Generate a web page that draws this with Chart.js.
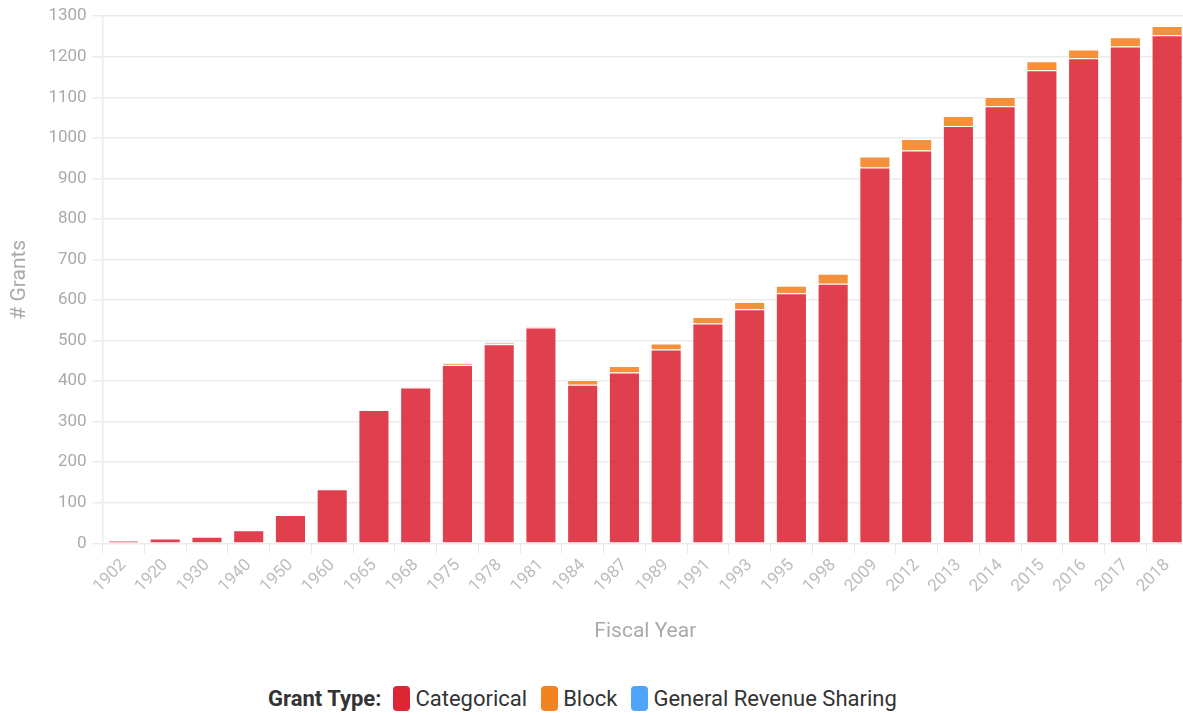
<!DOCTYPE html>
<html>
<head>
<meta charset="utf-8">
<script src="https://cdn.jsdelivr.net/npm/chart.js@4"></script>
<style>
  html, body { margin: 0; padding: 0; background: #fff; overflow: hidden; width: 1183px; height: 715px; }
  #wrap { position: absolute; left: 0; top: 0; width: 1188px; height: 660px; }
  #legend { position: absolute; left: 268px; top: 684px; height: 28px; display: flex; align-items: center;
    font-family: Roboto, "Noto Sans", sans-serif; font-size: 22px; color: #333; white-space: nowrap; }
  #legend .ttl { font-weight: bold; margin-right: 12px; }
  #legend .sw { display: inline-block; width: 17px; height: 25px; border-radius: 4px; margin-right: 5px; }
  #legend .it { display: flex; align-items: center; margin-right: 14px; }
</style>
</head>
<body>
<div id="wrap"><canvas id="c"></canvas></div>
<div id="legend"></div>
<script>
const years = ['1902','1920','1930','1940','1950','1960','1965','1968','1975','1978','1981','1984','1987','1989','1991','1993','1995','1998','2009','2012','2013','2014','2015','2016','2017','2018'];
const categorical = [7,12,16,32,70,133,329,384,440,491,532,391,421,478,542,577,617,640,927,969,1029,1078,1167,1196,1225,1253];
const block = [0,0,0,0,0,0,0,2,3,3,3,12,16,15,16,18,18,25,27,28,25,23,22,22,23,23];
const generalRevenueSharing = [0,0,0,0,0,0,0,0,1,1,1,1,0,0,0,0,0,0,0,0,0,0,0,0,0,0];
const seriesNames = ['Categorical','Block','General Revenue Sharing'];
const seriesColors = ['rgb(220,38,52)','rgb(245,130,32)','rgb(80,165,250)'];
const fillColors = ['rgba(220,38,52,0.88)','rgba(245,130,32,0.88)','rgba(80,165,250,0.88)'];

const legend = document.getElementById('legend');
legend.innerHTML = '<span class="ttl">Grant Type:</span>' + seriesNames.map((n,i)=>
  `<span class="it"><span class="sw" style="background:${seriesColors[i]}"></span>${n}</span>`).join('');

const tickFont = { family: 'Roboto', size: 17 };
const titleFont = { family: 'Roboto', size: 21, lineHeight: 1.2 };

new Chart(document.getElementById('c'), {
  type: 'bar',
  data: {
    labels: years,
    datasets: [categorical, block, generalRevenueSharing].map((d,i)=>({
      label: seriesNames[i],
      data: d,
      backgroundColor: fillColors[i],
      borderColor: 'rgba(255,255,255,0.7)',
      borderWidth: 1,
      categoryPercentage: 1,
      barPercentage: 0.745
    }))
  },
  options: {
    responsive: true,
    maintainAspectRatio: false,
    animation: false,
    layout: { padding: { top: 14, left: 0, right: 0, bottom: 0 } },
    plugins: { legend: { display: false }, tooltip: { enabled: false } },
    scales: {
      x: {
        stacked: true,
        grid: { display: true, drawOnChartArea: false, drawTicks: true, tickLength: 10, color: '#e6e6e6', lineWidth: 1 },
        border: { display: false },
        ticks: { font: tickFont, color: '#bdbdbd', minRotation: 45, maxRotation: 45, autoSkip: false, padding: 2 },
        title: { display: true, text: 'Fiscal Year', font: titleFont, color: '#aaaaaa', padding: { top: 0, bottom: 16 } },
        afterFit: (s) => { s.height = 116.7; }
      },
      y: {
        stacked: true,
        min: 0, max: 1300,
        grid: { color: '#ebebeb', lineWidth: 1.5, tickLength: 10, drawTicks: true },
        border: { display: true, color: '#ebebeb', width: 1.5 },
        ticks: { stepSize: 100, font: tickFont, color: '#aaaaaa', padding: 6, callback: (v) => String(v) },
        title: { display: true, text: '# Grants', font: titleFont, color: '#aaaaaa', padding: { top: 7, bottom: 0 } },
        afterFit: (s) => { s.width = 102.6; }
      }
    }
  }
});
</script>
</body>
</html>
